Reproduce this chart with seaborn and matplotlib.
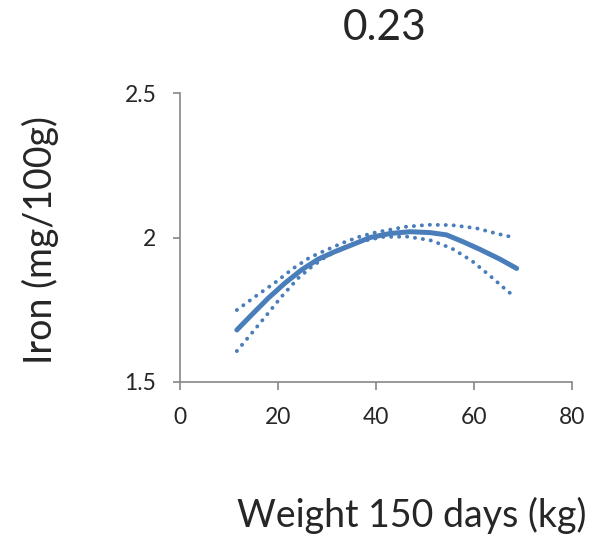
import matplotlib
matplotlib.use("Agg")
import matplotlib.pyplot as plt
import seaborn as sns
import pandas as pd

weight_fit = [11.6, 14.6, 18.0, 21.4, 24.8, 28.2, 31.6, 35.0, 38.8, 42.9, 47.0,
              51.0, 54.4, 57.8, 61.2, 65.3, 68.7]
iron_fit = [1.680, 1.732, 1.790, 1.842, 1.888, 1.925, 1.951, 1.974, 2.000, 2.014, 2.020,
            2.017, 2.009, 1.985, 1.959, 1.925, 1.893]

weight_upper = [11.6, 15.3, 19.4, 23.1, 26.5, 29.9, 33.3, 36.7, 40.0, 46.0, 50.7,
                55.4, 60.5, 65.0, 68.4]
iron_upper = [1.749, 1.795, 1.844, 1.893, 1.931, 1.957, 1.982, 2.003, 2.018, 2.037, 2.044,
              2.043, 2.032, 2.012, 1.999]

weight_lower = [11.6, 14.6, 17.7, 20.7, 24.1, 26.9, 29.9, 33.3, 36.7, 41.5, 46.3,
                51.0, 55.4, 59.5, 63.3, 67.0, 68.5]
iron_lower = [1.607, 1.668, 1.732, 1.795, 1.859, 1.899, 1.935, 1.964, 1.986, 2.002, 2.003,
              1.991, 1.963, 1.920, 1.867, 1.812, 1.795]

title = "0.23"
xlabel = "Weight 150 days (kg)"
ylabel = "Iron (mg/100g)"
xticks = [0, 20, 40, 60, 80]
yticks = [1.5, 2.0, 2.5]
yticklabels = ["1.5", "2", "2.5"]

sns.set_style("white")
plt.rcParams['font.family'] = ['Lato', 'DejaVu Sans']

fig = plt.figure(figsize=(6.08, 5.38), dpi=100)
ax = fig.add_axes([180/608, 1-382/538, 392/608, 289/538])

color = "#4A7EBB"
fit_df = pd.DataFrame({"w": weight_fit, "v": iron_fit})
up_df = pd.DataFrame({"w": weight_upper, "v": iron_upper})
lo_df = pd.DataFrame({"w": weight_lower, "v": iron_lower})

sns.lineplot(data=fit_df, x="w", y="v", ax=ax, color=color, lw=3.6,
             solid_capstyle="round", solid_joinstyle="round", estimator=None, sort=True)
for d in (up_df, lo_df):
    sns.lineplot(data=d, x="w", y="v", ax=ax, color=color, lw=2.8,
                 linestyle=(0, (0.05, 2.0)), dash_capstyle="round",
                 estimator=None, sort=True)

ax.set_xlim(0, 80)
ax.set_ylim(1.5, 2.5)
ax.set_xticks(xticks)
ax.set_xticklabels([str(t) for t in xticks])
ax.set_yticks(yticks)
ax.set_yticklabels(yticklabels)
ax.set_xlabel("")
ax.set_ylabel("")

for s in ("top", "right"):
    ax.spines[s].set_visible(False)
for s in ("left", "bottom"):
    ax.spines[s].set_color("#868686")
    ax.spines[s].set_linewidth(1.2)

ax.tick_params(axis="y", direction="out", length=5, width=1.2, color="#868686",
               labelsize=16.5, pad=12, left=True)
ax.tick_params(axis="x", direction="out", length=6, width=1.2, color="#868686",
               labelsize=16.5, pad=12, bottom=True)

fig.text(385/608, 1-28/538, title, ha="center", va="center", fontsize=30.5)
fig.text(40/608, 1-240/538, ylabel, ha="center", va="center", rotation=90, fontsize=27)
fig.text(412/608, 1-515/538, xlabel, ha="center", va="center", fontsize=27)

fig.savefig("out.png", dpi=100)
